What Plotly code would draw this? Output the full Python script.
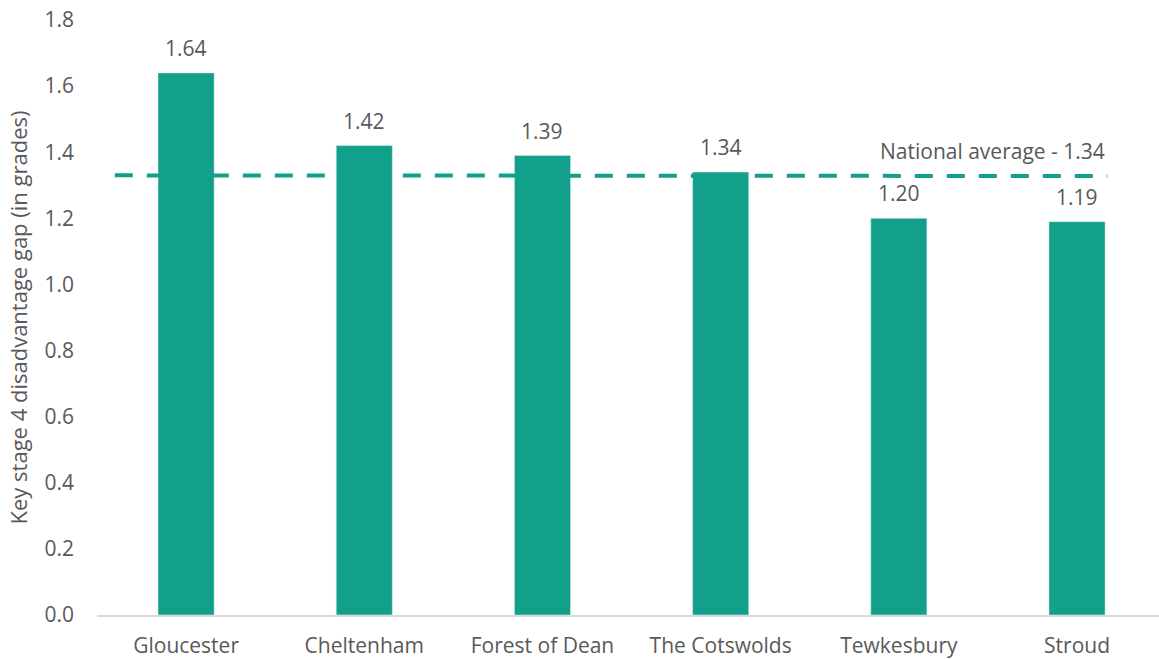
import plotly.graph_objects as go

categories = ["Gloucester", "Cheltenham", "Forest of Dean", "The Cotswolds", "Tewkesbury", "Stroud"]
values = [1.64, 1.42, 1.39, 1.34, 1.20, 1.19]
national_average = 1.34
y_title = "Key stage 4 disadvantage gap (in grades)"
avg_label = "National average - 1.34"

bar_color = "#12A08A"
text_color = "#595959"
font_family = "Open Sans, sans-serif"
fs = 21

fig = go.Figure()
fig.add_trace(go.Bar(x=categories, y=values, marker_color=bar_color, width=0.315,
                     hoverinfo="skip"))

for c, v in zip(categories, values):
    fig.add_annotation(x=c, y=v, text=f"{v:.2f}", showarrow=False, yshift=25,
                       font=dict(size=fs, color=text_color, family=font_family))

x0, x1 = -0.4, 5.17
fig.add_shape(type="line", xref="x", yref="y", x0=x0, x1=x1, y0=national_average - 0.01,
              y1=national_average - 0.012,
              line=dict(color=bar_color, width=4, dash="18px,14px"))
fig.add_annotation(x=x1, y=national_average, text=avg_label, showarrow=False,
                   xanchor="right", yshift=21,
                   font=dict(size=fs, color=text_color, family=font_family))

fig.update_layout(
    width=1159, height=659,
    margin=dict(l=97, r=0, t=20, b=44),
    plot_bgcolor="white", paper_bgcolor="white",
    showlegend=False,
    font=dict(family=font_family, color=text_color, size=fs),
)
fig.update_yaxes(range=[0, 1.8], dtick=0.2, tickformat=".1f", showgrid=False,
                 zeroline=False, showline=False, ticklabelstandoff=22,
                 title=dict(text=y_title, standoff=10, font=dict(size=22, color=text_color)),
                 tickfont=dict(size=fs, color=text_color))
fig.update_xaxes(showgrid=False, showline=True, linecolor="#D9D9D9", linewidth=1.5,
                 range=[-0.5, 5.46],
                 ticklabelstandoff=11, tickfont=dict(size=fs, color=text_color))

fig.write_html("out.html", config={"displayModeBar": False},
               post_script="document.body.style.margin='0';")
